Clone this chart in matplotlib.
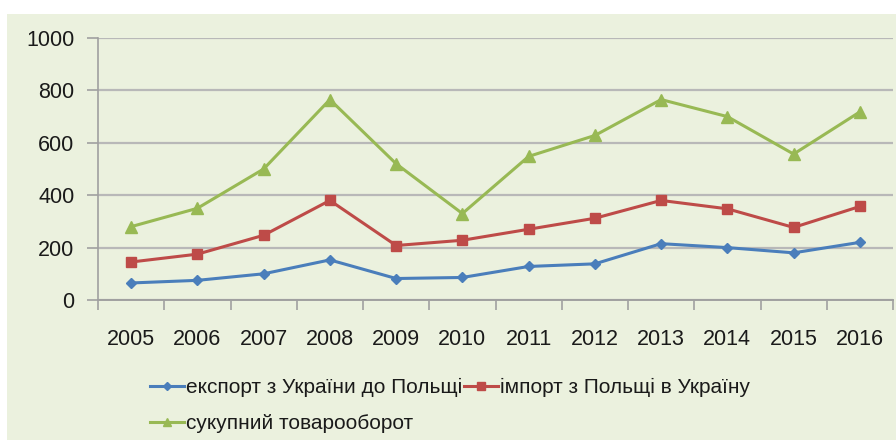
import matplotlib.pyplot as plt
from matplotlib.patches import Rectangle

# ----------------------------
# Data
# ----------------------------
years = ['2005', '2006', '2007', '2008', '2009', '2010',
         '2011', '2012', '2013', '2014', '2015', '2016']
export_ua_pl = [65, 75, 100, 153, 82, 86, 128, 138, 215, 200, 180, 220]
import_pl_ua = [145, 175, 247, 380, 208, 228, 270, 312, 380, 348, 277, 357]
total_turnover = [280, 350, 500, 765, 520, 330, 548, 628, 765, 700, 557, 718]

labels = ['експорт з України до Польщі', 'імпорт з Польщі в Україну',
          'сукупний товарооборот']

plt.rcParams['font.family'] = ['Liberation Sans', 'DejaVu Sans']
plt.rcParams['text.color'] = '#1A1A1A'

W, H = 896, 440
fig = plt.figure(figsize=(W / 100, H / 100), dpi=100)
fig.patch.set_facecolor('white')
bg = '#EBF1DE'
fig.patches.append(Rectangle((7 / W, 0), 1 - 7 / W, 426 / H,
                             transform=fig.transFigure, facecolor=bg,
                             edgecolor='none', zorder=-5))

ax = fig.add_axes([98 / W, (H - 300) / H, (893 - 98) / W, 262 / H])
ax.set_facecolor('none')

x = list(range(len(years)))
l1, = ax.plot(x, export_ua_pl, color='#4A7EBB', lw=2.2, marker='D', ms=5, label=labels[0], zorder=3)
l2, = ax.plot(x, import_pl_ua, color='#BE4B48', lw=2.2, marker='s', ms=7, label=labels[1], zorder=3)
l3, = ax.plot(x, total_turnover, color='#98B954', lw=2.2, marker='^', ms=8, label=labels[2], zorder=3)

ax.set_xlim(-0.5, len(years) - 0.5)
ax.set_ylim(0, 1000)
ax.set_yticks(range(0, 1001, 200))
ax.yaxis.grid(True, color='#B8B8B8', lw=1.6)
ax.set_axisbelow(True)

ax.set_xticks(x)
ax.set_xticklabels(years, fontsize=15.5, color='#1A1A1A')
ax.set_xticks([i - 0.5 for i in range(len(years) + 1)], minor=True)
ax.tick_params(axis='x', which='major', length=0, pad=21)
ax.tick_params(axis='x', which='minor', length=7, color='#A0A0A0', width=1.2)
ax.tick_params(axis='y', length=8, color='#A0A0A0', width=1.2, labelsize=15.5,
               labelcolor='#1A1A1A', pad=9)

for side in ['top', 'right']:
    ax.spines[side].set_visible(False)
ax.spines['left'].set_color('#A0A0A0')
ax.spines['left'].set_linewidth(1.2)
ax.spines['bottom'].set_color('#A0A0A0')
ax.spines['bottom'].set_linewidth(1.4)

# column-major fill: order so that row 1 = export, import; row 2 = total
fig.legend([l1, l3, l2], [labels[0], labels[2], labels[1]],
           loc='upper left', bbox_to_anchor=(140 / W, 1 - 368 / H), ncol=2,
           frameon=False, fontsize=15, handlelength=1.6, handletextpad=0.1,
           columnspacing=0.1, labelspacing=0.8, markerscale=0.8,
           borderpad=0)

plt.savefig('out.png', dpi=100, facecolor='white')
